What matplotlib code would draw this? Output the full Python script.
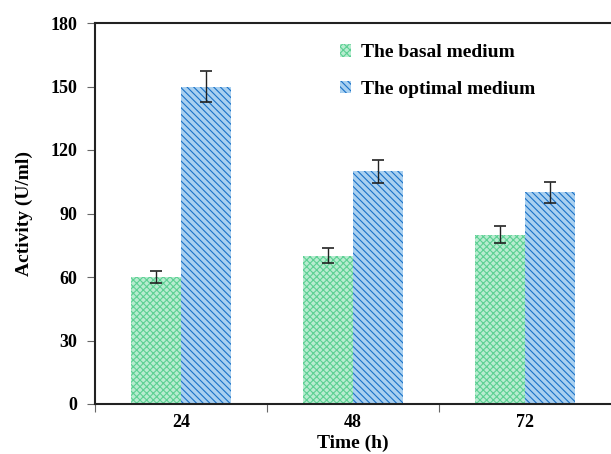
import numpy as np
import matplotlib.pyplot as plt
import matplotlib as mpl

# data
times = ['24', '48', '72']
basal = [60, 70, 80]
basal_err = [3, 3.5, 4]
optimal = [150, 110, 100]
optimal_err = [7.5, 5.5, 5]

plt.rcParams['font.family'] = ['Liberation Serif', 'DejaVu Serif']
plt.rcParams['font.weight'] = 'bold'
plt.rcParams['hatch.linewidth'] = 0.8

fig = plt.figure(figsize=(6.11, 4.54), dpi=100)
ax = fig.add_axes([95/611, 1 - 404/454, 516/611, 381/454])

x = np.arange(len(times))
w = 0.29

ax.bar(x - w/2, basal, w, color='#b8ecd0', edgecolor='#5cd093', hatch='xxxxx',
       linewidth=0, label='The basal medium')
ax.bar(x + w/2, optimal, w, color='#a9d0f0', edgecolor='#1a72c8', hatch='\\\\\\\\\\',
       linewidth=0, label='The optimal medium')
ax.errorbar(x - w/2, basal, yerr=basal_err, fmt='none', ecolor='#222222',
            elinewidth=1, capsize=4, capthick=1.2)
ax.errorbar(x + w/2, optimal, yerr=optimal_err, fmt='none', ecolor='#222222',
            elinewidth=1, capsize=4, capthick=1.2)

ax.set_xlim(-0.5, 2.5)
ax.set_ylim(0, 180)
ax.set_yticks(np.arange(0, 181, 30))
ax.set_xticks([-0.5, 0.5, 1.5])
ax.set_xticklabels([])
ax.set_xticks(x, minor=True)
ax.set_xticklabels(times, minor=True, fontsize=13, fontweight='bold')
ax.tick_params(axis='x', which='minor', length=0, pad=7)
ax.tick_params(axis='x', which='major', length=6, direction='out', color='#666666')
ax.tick_params(axis='y', length=6, direction='out', labelsize=13, pad=7, color='#666666')
for lab in ax.get_yticklabels():
    lab.set_fontweight('bold')

ax.spines['right'].set_visible(False)
for s in ['left', 'bottom', 'top']:
    ax.spines[s].set_linewidth(1.5)
    ax.spines[s].set_color('#222222')

ax.set_ylabel('Activity (U/ml)', fontsize=14, fontweight='bold', labelpad=12)
ax.set_xlabel('Time (h)', fontsize=14, fontweight='bold', labelpad=3)

ax.legend(loc='upper left', bbox_to_anchor=(0.44, 0.99), frameon=False,
          fontsize=14, handlelength=0.6, handleheight=0.6, handletextpad=0.5,
          labelspacing=1.0)

fig.savefig('out.png', dpi=100)
